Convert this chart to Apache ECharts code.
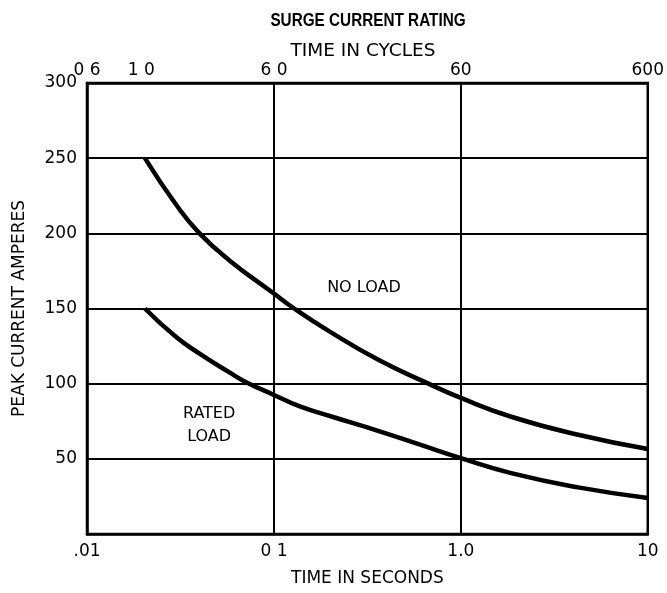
<!DOCTYPE html>
<html><head><meta charset="utf-8">
<script src="https://cdn.jsdelivr.net/npm/echarts@6/dist/echarts.min.js"></script>
<style>html,body{margin:0;padding:0;background:#fff}#c{width:667px;height:593px}</style>
</head><body><div id="c"></div>
<script>
// Time in seconds (log scale) and peak current (A)
const noLoadTime = [0.0204, 0.030, 0.040, 0.0578, 0.1, 0.125, 0.197, 0.364, 0.671, 1.0, 1.86, 4.24, 10];
const noLoadAmps = [250, 219, 200, 182, 160, 151, 135, 115.7, 100, 90.5, 78, 66, 56.5];
const ratedTime = [0.0204, 0.030, 0.040, 0.0578, 0.071, 0.1, 0.1365, 0.205, 0.364, 0.594, 1.0, 1.86, 4.24, 10];
const ratedAmps = [150, 131, 120, 107.5, 101, 92.5, 85, 78, 68.5, 59.8, 50.5, 40.5, 31, 24];
const secTicks = [0.01, 0.1, 1, 10];
const secTickLabels = ['.01', '0 1', '1.0', '10'];
const cycleTickPos = [0.01, 0.0195, 0.1, 1, 10];
const cycleTickLabels = ['0 6', '1 0', '6 0', '60', '600'];
const yTicks = [50, 100, 150, 200, 250, 300];
const annotations = [
  {name: 'NO LOAD', t: 0.303, v: 164},
  {name: 'RATED\nLOAD', t: 0.045, v: 72}
];

function lookup(vals, labels, v) {
  let best = 0, bd = Infinity;
  for (let i = 0; i < vals.length; i++) {
    const d = Math.abs(Math.log10(vals[i]) - Math.log10(v));
    if (d < bd) { bd = d; best = i; }
  }
  return bd < 0.02 ? labels[best] : '';
}

const FONT = 'DejaVu Sans';
const FS = 17;
const chart = echarts.init(document.getElementById('c'), null, {renderer: 'canvas'});
chart.setOption({
  animation: false,
  backgroundColor: '#fff',
  graphic: [
    {type: 'text', x: 368, y: 21, scaleX: 0.85, silent: true,
     style: {text: 'SURGE CURRENT RATING', fill: '#000', textAlign: 'center', textVerticalAlign: 'middle',
       font: 'bold 18px "Liberation Sans", Arial, sans-serif'}},
    {type: 'text', x: 363, y: 51, silent: true,
     style: {text: 'TIME IN CYCLES', fill: '#000', textAlign: 'center', textVerticalAlign: 'middle',
       font: '18.5px "DejaVu Sans", sans-serif'}}
  ],
  grid: {left: 87, right: 17, top: 83, bottom: 59, show: true, borderColor: '#000', borderWidth: 2.5},
  xAxis: [
    {type: 'log', logBase: 10, min: 0.01, max: 10, position: 'bottom',
     name: 'TIME IN SECONDS', nameLocation: 'middle', nameGap: 36,
     nameTextStyle: {fontFamily: FONT, fontSize: FS, color: '#000'},
     axisLine: {show: true, lineStyle: {color: '#000', width: 2.5}},
     axisTick: {show: false}, minorTick: {show: false},
     axisLabel: {fontFamily: FONT, fontSize: FS, color: '#000', margin: 9,
       formatter: v => lookup(secTicks, secTickLabels, v)},
     splitLine: {show: true, lineStyle: {color: '#000', width: 2}}},
    {type: 'log', logBase: 10, min: 0.01, max: 10, position: 'top',
     axisLine: {show: true, lineStyle: {color: '#000', width: 2.5}},
     axisTick: {show: false},
     axisLabel: {fontFamily: FONT, fontSize: FS, color: '#000', margin: 4,
       customValues: cycleTickPos,
       formatter: v => lookup(cycleTickPos, cycleTickLabels, v)},
     splitLine: {show: false}}
  ],
  yAxis: {type: 'value', min: 0, max: 300, interval: 50,
    name: 'PEAK CURRENT AMPERES', nameLocation: 'middle', nameGap: 59, nameRotate: 90,
    nameTextStyle: {fontFamily: FONT, fontSize: FS, color: '#000'},
    axisLine: {show: true, lineStyle: {color: '#000', width: 2.5}},
    axisTick: {show: false},
    axisLabel: {fontFamily: FONT, fontSize: FS, color: '#000', margin: 10,
      formatter: v => (yTicks.indexOf(v) >= 0 ? String(v) : '')},
    splitLine: {show: true, lineStyle: {color: '#000', width: 2}}},
  series: [
    {name: 'NO LOAD', type: 'line', xAxisIndex: 0, smooth: 0.5, symbol: 'none',
     lineStyle: {color: '#000', width: 4.5},
     data: noLoadTime.map((t, i) => [t, noLoadAmps[i]])},
    {name: 'RATED LOAD', type: 'line', xAxisIndex: 0, smooth: 0.5, symbol: 'none',
     lineStyle: {color: '#000', width: 4.5},
     data: ratedTime.map((t, i) => [t, ratedAmps[i]])},
    {name: 'labels', type: 'scatter', xAxisIndex: 0, symbolSize: 0, silent: true,
     itemStyle: {opacity: 1},
     label: {show: true, position: 'inside', formatter: p => p.name,
       fontFamily: FONT, fontSize: 16, color: '#000', opacity: 1, lineHeight: 23, align: 'center'},
     data: annotations.map(a => ({name: a.name, value: [a.t, a.v]}))}
  ]
});
</script></body></html>
